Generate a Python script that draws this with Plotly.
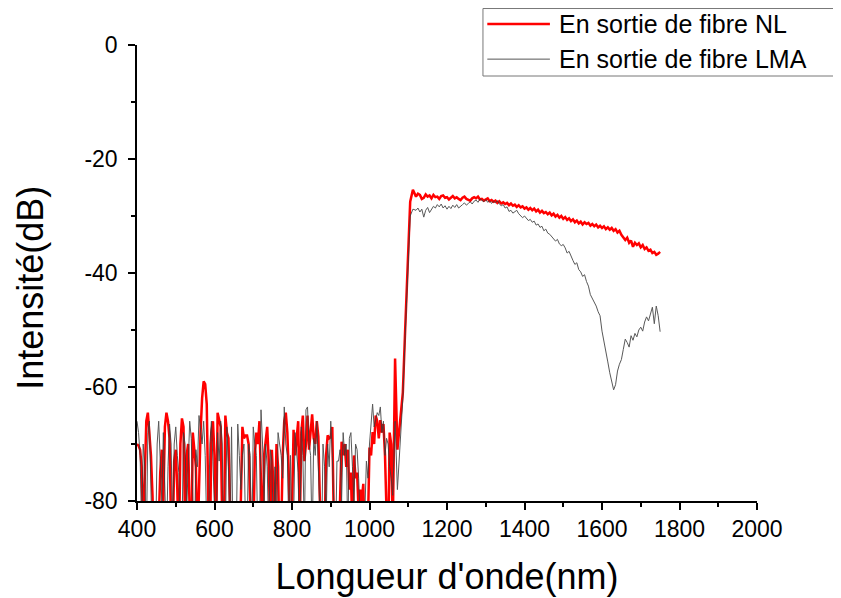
import plotly.graph_objects as go

# Wavelength sampling (nm)
wl_noise = list(range(400, 1061, 4))
wl_rise = [1066, 1072, 1079, 1086, 1092, 1097, 1100, 1105, 1112]
wl_plateau = list(range(1120, 1751, 5))

# En sortie de fibre NL (red)
nl_noise = [
    -70, -70.3, -71, -74, -86, -75, -66, -64.5, -69, -72,
    -79, -90, -86, -92, -84, -75, -71, -80, -67, -64.5,
    -66, -69, -85, -88, -73, -71, -78, -90, -70, -65.5,
    -67, -84, -72, -70, -82, -90, -68, -71, -74, -88,
    -76, -68, -62, -59, -59.5, -63, -80, -90, -68, -66,
    -72, -88, -64.5, -66, -67, -84, -90, -65, -68, -69,
    -86, -92, -88, -90, -85, -91, -84, -80, -67, -69,
    -68.5, -68.5, -70, -86, -90, -88, -72, -68, -70, -66,
    -74, -88, -72, -69, -67, -73, -86, -71, -76, -84,
    -70, -74, -90, -86, -72, -66, -64.5, -68, -76, -90,
    -82, -67.5, -72, -69, -66, -85, -68, -65, -73, -70,
    -65, -71, -68, -64.8, -69, -70, -66, -68.7, -80, -90,
    -92, -86, -72, -68.5, -69, -68.8, -67, -84, -90, -88,
    -91, -80, -69.6, -72, -70, -74, -71, -78, -75, -86,
    -72, -76, -75, -82, -78, -80, -77, -90, -88, -84,
    -70.6, -72, -67.9, -70, -65, -66, -69, -65.8, -68, -66.5,
    -72, -82, -90, -68, -70, -85,
]
nl_rise = [-55, -71, -66, -61, -50, -41, -34, -27.5, -25.4]
nl_plateau = [
    -26.6, -26.1, -26.3, -27.0, -26.8, -26.2, -26.6, -26.4, -26.9, -26.3,
    -26.7, -26.6, -27.0, -26.5, -26.4, -26.8, -26.7, -27.1, -26.8, -26.5,
    -26.9, -26.7, -27.0, -27.2, -26.8, -26.6, -27.0, -27.1, -27.3, -26.9,
    -26.7, -26.9, -26.6, -27.1, -27.0, -27.3, -27.1, -26.9, -27.4, -27.2,
    -27.5, -27.3, -27.7, -27.4, -27.8, -27.6, -27.9, -27.7, -28.1, -27.8,
    -28.2, -28.0, -28.4, -28.1, -28.5, -28.3, -28.7, -28.5, -28.9, -28.6,
    -29.0, -28.7, -29.2, -28.9, -29.4, -29.1, -29.5, -29.3, -29.7, -29.4,
    -29.9, -29.6, -30.1, -29.8, -30.3, -30.0, -30.5, -30.2, -30.7, -30.4,
    -30.9, -30.6, -31.1, -30.8, -31.3, -31.0, -31.5, -31.1, -31.4, -31.2,
    -31.7, -31.4, -31.8, -31.5, -32.0, -31.7, -32.1, -31.8, -32.3, -32.0,
    -32.4, -32.1, -32.6, -32.3, -32.9, -32.6, -33.3, -33.7, -34.2, -33.8,
    -34.7, -34.3, -35.4, -34.7, -35.1, -34.8, -35.5, -35.1, -35.8, -35.5,
    -36.1, -35.9, -36.5, -36.3, -36.8, -36.6, -36.3,
]

# En sortie de fibre LMA (dark grey)
lma_noise = [
    -66, -68, -72, -85, -70, -74, -88, -68, -66, -76,
    -90, -84, -88, -70, -66, -73, -80, -68, -86, -88,
    -74, -66.5, -70, -86, -70, -67, -72, -75, -90, -86,
    -68, -70, -82, -72, -66, -69, -86, -90, -71, -74,
    -65, -68, -70, -66, -72, -85, -88, -70, -66, -73,
    -88, -90, -68, -73, -66, -70, -90, -86, -67, -74,
    -88, -67, -90, -92, -88, -66.5, -72, -78, -72, -70,
    -84, -86, -70, -72, -90, -67, -70, -72, -88, -86,
    -64, -70, -80, -70, -74, -86, -71, -73, -90, -74,
    -85, -68, -70, -72, -76, -63.5, -70, -72, -86, -72,
    -88, -84, -68, -71, -75, -90, -67, -72, -86, -64,
    -63.5, -70, -72, -88, -69, -72, -66, -74, -85, -90,
    -70, -74, -84, -70, -74, -66, -72, -86, -90, -73,
    -73, -71, -80, -68, -72, -70, -86, -69, -68, -74,
    -80, -70, -71, -76, -88, -90, -86, -82, -73, -76,
    -70, -66, -63, -67, -66, -64.5, -65, -63.5, -68, -66,
    -72, -69, -70, -74, -76, -79,
]
lma_rise = [-66, -78, -70, -62, -51, -43, -36, -30, -28.8]
lma_plateau = [
    -29.0, -28.6, -29.3, -28.8, -30.2, -29.0, -28.5, -29.4, -28.7, -28.3,
    -28.6, -28.0, -28.4, -27.9, -28.6, -28.2, -28.8, -28.3, -28.7, -28.1,
    -28.5, -28.0, -28.6, -28.2, -28.0, -27.7, -28.1, -27.8, -27.5, -27.9,
    -27.4, -27.2, -27.6, -27.0, -27.3, -27.5, -27.1, -27.6, -27.3, -27.8,
    -27.4, -27.7, -27.3, -27.9, -28.2, -28.0, -28.6, -28.4, -29.2, -29.0,
    -29.5, -29.2, -29.0, -29.6, -29.9, -30.3, -30.0, -30.5, -30.8, -30.6,
    -31.1, -30.9, -31.6, -31.4, -32.0, -31.8, -32.6, -32.3, -33.0, -33.2,
    -33.6, -33.9, -34.4, -34.1, -34.9, -35.2, -35.0, -35.6, -36.5, -36.2,
    -37.2, -37.8, -38.5, -38.2, -39.4, -39.8, -40.6, -40.3, -41.5, -42.3,
    -43.8, -44.4, -45.0, -45.8, -46.8, -47.5, -50.2, -51.8, -54.0, -55.6,
    -57.5, -59.0, -60.5, -59.6, -57.2, -56.0, -55.2, -53.4, -51.6, -52.2,
    -53.0, -51.0, -51.8, -50.6, -51.2, -50.0, -49.5, -50.2, -48.6, -47.7,
    -48.4, -47.2, -46.0, -48.9, -45.8, -47.5, -50.3,
]

x_ticks = [400, 600, 800, 1000, 1200, 1400, 1600, 1800, 2000]
y_ticks = [-80, -60, -40, -20, 0]
y_tick_labels = ["-80", "-60", "-40", "-20", "0"]

wl = wl_noise + wl_rise + wl_plateau
nl = nl_noise + nl_rise + nl_plateau
lma = lma_noise + lma_rise + lma_plateau

font = "Liberation Sans, Arial, sans-serif"

fig = go.Figure()
fig.add_trace(go.Scatter(x=wl, y=nl, mode="lines", name="En sortie de fibre NL",
                         line=dict(color="#ff0000", width=2.5), showlegend=False))
fig.add_trace(go.Scatter(x=wl, y=lma, mode="lines", name="En sortie de fibre LMA",
                         line=dict(color="#3c3c3c", width=1), opacity=0.85, showlegend=False))

axis_common = dict(showline=True, linecolor="black", linewidth=1.5, ticks="outside",
                   ticklen=7, tickwidth=1.5, tickcolor="black", showgrid=False,
                   zeroline=False, mirror=False,
                   tickfont=dict(family=font, size=23, color="black"))

# the page body adds an 8px offset, so margins are shifted to keep the plot area in place
fig.update_layout(
    width=841, height=598,
    margin=dict(l=129, r=92, t=37, b=105),
    plot_bgcolor="white", paper_bgcolor="white",
    font=dict(family=font, color="black"),
    xaxis=dict(range=[400, 2000], tickvals=x_ticks,
               minor=dict(ticks="outside", ticklen=4, tickwidth=1.5, tickcolor="black", dtick=100),
               title=dict(text="Longueur d'onde(nm)", font=dict(family=font, size=36), standoff=22),
               **axis_common),
    yaxis=dict(range=[-80, 0], tickvals=y_ticks, ticktext=y_tick_labels, ticklabelstandoff=6,
               minor=dict(ticks="outside", ticklen=4, tickwidth=1.5, tickcolor="black", dtick=10),
               **axis_common),
)

# y title as an annotation so it can sit a little below the centre, like the original
fig.add_annotation(xref="paper", yref="paper", x=-0.173, y=0.467, xanchor="center", yanchor="middle",
                   text="Intensité(dB)", textangle=-90, showarrow=False,
                   font=dict(family=font, size=36, color="black"))

# Legend drawn by hand (box partly cut off by the right edge, as in the original)
fig.add_shape(type="rect", xref="paper", yref="paper", x0=0.558, x1=1.2, y0=0.932, y1=1.08,
              line=dict(color="#777777", width=1), fillcolor="white", layer="above")
fig.add_shape(type="line", xref="paper", yref="paper", x0=0.565, x1=0.666, y0=1.046, y1=1.046,
              line=dict(color="#ff0000", width=2.5), layer="above")
fig.add_shape(type="line", xref="paper", yref="paper", x0=0.565, x1=0.666, y0=0.969, y1=0.969,
              line=dict(color="#555555", width=1), layer="above")
fig.add_annotation(xref="paper", yref="paper", x=0.677, y=1.046, xanchor="left", yanchor="middle",
                   text="En sortie de fibre NL", showarrow=False,
                   font=dict(family=font, size=25, color="black"))
fig.add_annotation(xref="paper", yref="paper", x=0.677, y=0.969, xanchor="left", yanchor="middle",
                   text="En sortie de fibre LMA", showarrow=False,
                   font=dict(family=font, size=25, color="black"))

fig.write_html("out.html")
